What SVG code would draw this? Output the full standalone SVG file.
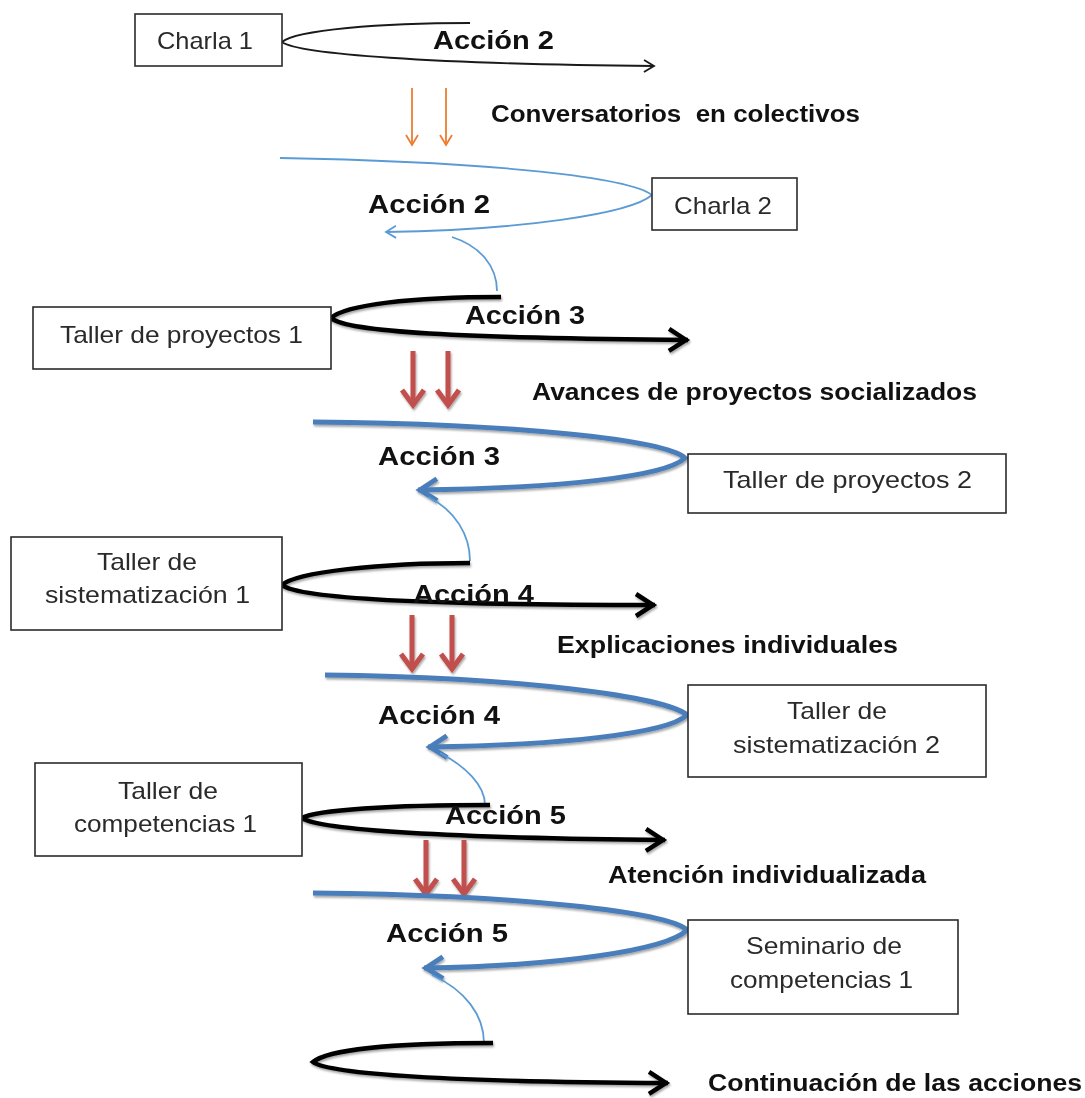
<svg xmlns="http://www.w3.org/2000/svg" xmlns:xlink="http://www.w3.org/1999/xlink" width="1085" height="1098" viewBox="0 0 1085 1098">
<style>
.box{fill:#fff;stroke:#2b2b2b;stroke-width:1.6}
.bt{font-family:"Liberation Sans",Arial,sans-serif;font-size:24px;fill:#2a2a2a}
.lab{font-family:"Liberation Sans",Arial,sans-serif;font-weight:bold;font-size:26px;fill:#111}
.hd{font-family:"Liberation Sans",Arial,sans-serif;font-weight:bold;font-size:23px;fill:#111}
.thinK{fill:none;stroke:#1a1a1a;stroke-width:1.8}
.thickK{fill:none;stroke:#000;stroke-width:4.5}
.thinB{fill:none;stroke:#5b9bd5;stroke-width:1.8}
.thickB{fill:none;stroke:#4a7ebb;stroke-width:5}
</style>
<defs>
<filter id="sh" x="-10%" y="-20%" width="120%" height="160%">
<feDropShadow dx="1" dy="2" stdDeviation="1.2" flood-color="#000" flood-opacity="0.35"/>
</filter>
<marker id="mThinK" markerUnits="userSpaceOnUse" markerWidth="30" markerHeight="30" orient="auto" overflow="visible">
<path d="M-10,-6 L0,0 L-10,6" fill="none" stroke="#1a1a1a" stroke-width="1.8"/>
</marker>
<marker id="mThinB" markerUnits="userSpaceOnUse" markerWidth="30" markerHeight="30" orient="auto" overflow="visible">
<path d="M-10,-6 L0,0 L-10,6" fill="none" stroke="#5b9bd5" stroke-width="1.8"/>
</marker>
<marker id="mThickK" markerUnits="userSpaceOnUse" markerWidth="40" markerHeight="40" orient="auto" overflow="visible">
<path d="M-19,-11 L-2,0 L-19,11" fill="none" stroke="#000" stroke-width="4.5"/>
</marker>
<marker id="mThickB" markerUnits="userSpaceOnUse" markerWidth="40" markerHeight="40" orient="auto" overflow="visible">
<path d="M-19,-11 L-2,0 L-19,11" fill="none" stroke="#4a7ebb" stroke-width="5"/>
</marker>
<g id="ra" fill="none" stroke="#c0504d" stroke-width="5" stroke-linejoin="miter">
<line x1="0" y1="0" x2="0" y2="54"/>
<polyline points="-11,39 0,54 11,39"/>
</g>
<g id="oa" fill="none" stroke="#ed7d31" stroke-width="1.8">
<line x1="0" y1="0" x2="0" y2="57"/>
<polyline points="-6,47 0,57 6,47"/>
</g>
</defs>
<rect width="1085" height="1098" fill="#fff"/>

<g id="connectors">
<path class="thinK" d="M470,23 C380,23 296,30 282,42 C298,54 430,64 654,66" marker-end="url(#mThinK)"/>
<use xlink:href="#oa" x="412" y="88"/>
<use xlink:href="#oa" x="446" y="88"/>

<path class="thinB" d="M280,158 C500,162 630,178 652,195 C630,214 520,230 386,232" marker-end="url(#mThinB)"/>
<path class="thinB" d="M452,237 C480,246 497,266 497,291"/>

<g filter="url(#sh)">
<path class="thickK" d="M501,297 C410,297 345,305 331,318 C346,332 460,338 688,340" marker-end="url(#mThickK)"/>
<use xlink:href="#ra" x="413" y="351"/>
<use xlink:href="#ra" x="448" y="351"/>
<path class="thickB" d="M313,422 C520,424 665,440 685,458 C665,477 560,488 418,490" marker-end="url(#mThickB)"/>
</g>
<path class="thinB" d="M428,497 C455,510 470,535 470,561"/>

<g filter="url(#sh)">
<path class="thickK" d="M470,563 C380,563 296,572 282,585 C298,598 420,605 655,605" marker-end="url(#mThickK)"/>
<use xlink:href="#ra" x="412" y="615"/>
<use xlink:href="#ra" x="452" y="615"/>
<path class="thickB" d="M325,675 C520,677 667,697 687,715 C667,734 560,745 428,747" marker-end="url(#mThickB)"/>
</g>
<path class="thinB" d="M440,753 C465,766 485,785 485,805"/>

<g filter="url(#sh)">
<path class="thickK" d="M490,805 C390,805 316,810 302,818 C318,830 450,838 665,840" marker-end="url(#mThickK)"/>
<use xlink:href="#ra" x="426" y="840"/>
<use xlink:href="#ra" x="464" y="840"/>
<path class="thickB" d="M313,893 C520,895 667,912 687,930 C667,950 560,966 424,968" marker-end="url(#mThickB)"/>
</g>
<path class="thinB" d="M432,975 C465,990 484,1015 484,1043"/>

<g filter="url(#sh)">
<path class="thickK" d="M493,1043 C390,1043 327,1050 313,1062 C329,1074 450,1082 668,1083" marker-end="url(#mThickK)"/>
</g>
</g>

<g id="labels">
<text class="lab" x="433" y="49" textLength="121" lengthAdjust="spacingAndGlyphs">Acción 2</text>
<text class="hd" x="491" y="122" textLength="369" lengthAdjust="spacingAndGlyphs" xml:space="preserve">Conversatorios  en colectivos</text>
<text class="lab" x="368" y="213" textLength="122" lengthAdjust="spacingAndGlyphs">Acción 2</text>
<text class="lab" x="465" y="324" textLength="120" lengthAdjust="spacingAndGlyphs">Acción 3</text>
<text class="hd" x="532" y="400" textLength="445" lengthAdjust="spacingAndGlyphs">Avances de proyectos socializados</text>
<text class="lab" x="378" y="465" textLength="122" lengthAdjust="spacingAndGlyphs">Acción 3</text>
<text class="lab" x="413" y="603" textLength="121" lengthAdjust="spacingAndGlyphs">Acción 4</text>
<text class="hd" x="557" y="653" textLength="341" lengthAdjust="spacingAndGlyphs">Explicaciones individuales</text>
<text class="lab" x="378" y="724" textLength="122" lengthAdjust="spacingAndGlyphs">Acción 4</text>
<text class="lab" x="445" y="824" textLength="121" lengthAdjust="spacingAndGlyphs">Acción 5</text>
<text class="hd" x="608" y="883" textLength="318" lengthAdjust="spacingAndGlyphs">Atención individualizada</text>
<text class="lab" x="386" y="942" textLength="122" lengthAdjust="spacingAndGlyphs">Acción 5</text>
<text class="hd" x="708" y="1091" textLength="374" lengthAdjust="spacingAndGlyphs">Continuación de las acciones</text>
</g>

<g id="node-charla1">
<rect class="box" x="135" y="14" width="147" height="52"/>
<text class="bt" x="157" y="49" textLength="96" lengthAdjust="spacingAndGlyphs">Charla 1</text>
</g>
<g id="node-charla2">
<rect class="box" x="652" y="178" width="145" height="52"/>
<text class="bt" x="674" y="214" textLength="98" lengthAdjust="spacingAndGlyphs">Charla 2</text>
</g>
<g id="node-taller-proyectos-1">
<rect class="box" x="33" y="307" width="298" height="62"/>
<text class="bt" x="60" y="343" textLength="243" lengthAdjust="spacingAndGlyphs">Taller de proyectos 1</text>
</g>
<g id="node-taller-proyectos-2">
<rect class="box" x="688" y="454" width="318" height="59"/>
<text class="bt" x="723" y="488" textLength="249" lengthAdjust="spacingAndGlyphs">Taller de proyectos 2</text>
</g>
<g id="node-taller-sistematizacion-1">
<rect class="box" x="11" y="537" width="271" height="93"/>
<text class="bt" x="97" y="570" textLength="100" lengthAdjust="spacingAndGlyphs">Taller de</text>
<text class="bt" x="45" y="603" textLength="205" lengthAdjust="spacingAndGlyphs">sistematización 1</text>
</g>
<g id="node-taller-sistematizacion-2">
<rect class="box" x="688" y="685" width="298" height="92"/>
<text class="bt" x="787" y="719" textLength="100" lengthAdjust="spacingAndGlyphs">Taller de</text>
<text class="bt" x="733" y="753" textLength="207" lengthAdjust="spacingAndGlyphs">sistematización 2</text>
</g>
<g id="node-taller-competencias-1">
<rect class="box" x="35" y="763" width="267" height="93"/>
<text class="bt" x="118" y="799" textLength="100" lengthAdjust="spacingAndGlyphs">Taller de</text>
<text class="bt" x="74" y="832" textLength="183" lengthAdjust="spacingAndGlyphs">competencias 1</text>
</g>
<g id="node-seminario-competencias-1">
<rect class="box" x="688" y="920" width="270" height="94"/>
<text class="bt" x="746" y="954" textLength="156" lengthAdjust="spacingAndGlyphs">Seminario de</text>
<text class="bt" x="730" y="988" textLength="183" lengthAdjust="spacingAndGlyphs">competencias 1</text>
</g>
</svg>
